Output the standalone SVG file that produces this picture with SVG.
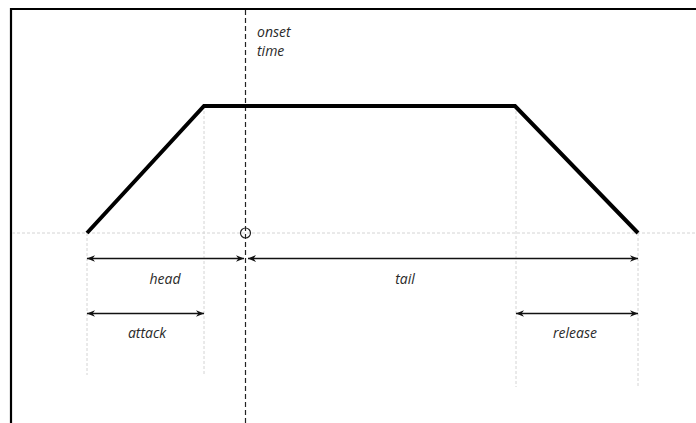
<svg xmlns="http://www.w3.org/2000/svg" width="696" height="423" viewBox="0 0 696 423">
  <defs>
    <marker id="arrow" viewBox="0 0 10 10" refX="10" refY="5" markerWidth="8" markerHeight="8" markerUnits="userSpaceOnUse" orient="auto-start-reverse">
      <path d="M0,1 L10,5 L0,9 L3,5 Z" fill="#111"/>
    </marker>
    <style>
      .guide { stroke: #d4d4d4; stroke-width: 1; stroke-dasharray: 3 2; fill: none; }
      .span { stroke: #111; stroke-width: 1.5; fill: none; marker-start: url(#arrow); marker-end: url(#arrow); }
      .lbl { font-family: "Open Sans", "Noto Sans", sans-serif; font-style: italic; font-size: 14px; fill: #2a2a2a; }
    </style>
  </defs>
  <rect width="696" height="423" fill="#fff"/>
  <!-- frame: top and left edges -->
  <path d="M11,423 V9 H696" stroke="#000" stroke-width="2.2" fill="none"/>

  <!-- guide lines -->
  <g id="guides">
    <line class="guide" x1="12" y1="233" x2="696" y2="233"/>
    <line class="guide" x1="87" y1="233" x2="87" y2="375"/>
    <line class="guide" x1="204" y1="106" x2="204" y2="375"/>
    <line class="guide" x1="516" y1="106" x2="516" y2="387"/>
    <line class="guide" x1="638" y1="233" x2="638" y2="387"/>
  </g>

  <!-- onset marker -->
  <g id="onset">
    <line x1="245.5" y1="10" x2="245.5" y2="423" stroke="#222" stroke-width="1.2" stroke-dasharray="5 3"/>
    <circle cx="245.5" cy="233" r="5" fill="none" stroke="#222" stroke-width="1.2"/>
    <text class="lbl" x="257" y="37">onset</text>
    <text class="lbl" x="257" y="56">time</text>
  </g>

  <!-- envelope -->
  <g id="envelope">
    <polyline points="87,233 204,106 515,106 638,233" fill="none" stroke="#000" stroke-width="4" stroke-linejoin="miter"/>
  </g>

  <!-- span arrows -->
  <g id="connectors">
    <line class="span" x1="87" y1="258.5" x2="244" y2="258.5"/>
    <line class="span" x1="248" y1="258.5" x2="638" y2="258.5" style="marker-start:none"/>
    <path d="M248,258.5 l8,-3.5 l-2.4,3.5 l2.4,3.5 Z" fill="#111"/>
    <line class="span" x1="87" y1="313.5" x2="204" y2="313.5"/>
    <line class="span" x1="516" y1="313.5" x2="638" y2="313.5"/>
  </g>

  <g id="head"><text class="lbl" x="165" y="284" text-anchor="middle">head</text></g>
  <g id="tail"><text class="lbl" x="405" y="284" text-anchor="middle">tail</text></g>
  <g id="attack"><text class="lbl" x="147" y="338" text-anchor="middle">attack</text></g>
  <g id="release"><text class="lbl" x="575" y="338" text-anchor="middle">release</text></g>
</svg>
